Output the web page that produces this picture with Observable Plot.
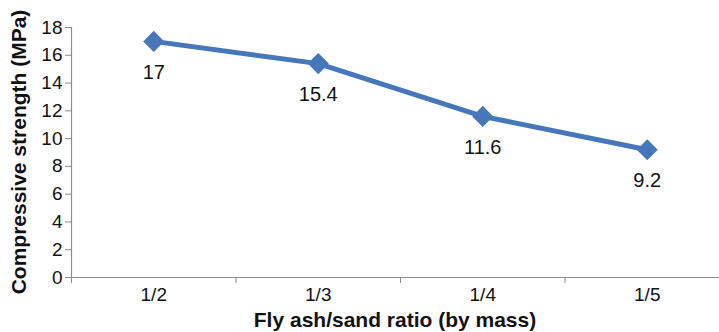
<!DOCTYPE html>
<html><head><meta charset="utf-8">
<script src="https://cdn.jsdelivr.net/npm/d3@7"></script>
<script src="https://cdn.jsdelivr.net/npm/@observablehq/plot@0.6"></script>
<style>body{margin:0;background:#fff;font-family:"Liberation Sans",Arial,sans-serif}</style>
</head><body><div id="c"></div>
<script>
const categories = ["1/2", "1/3", "1/4", "1/5"];
const strength = [17, 15.4, 11.6, 9.2];
const yTicks = [0, 2, 4, 6, 8, 10, 12, 14, 16, 18];

const data = categories.map((c, i) => ({i: i + 0.5, cat: c, v: strength[i]}));
const color = "#4677BA";

const chart = Plot.plot({
  width: 719, height: 332,
  marginLeft: 71, marginRight: 0, marginTop: 27, marginBottom: 55,
  style: {fontFamily: "'Liberation Sans', Arial, sans-serif", fontSize: "19px", background: "#fff", overflow: "visible"},
  x: {type: "linear", domain: [0, 4], range: [71, 729]},
  y: {domain: [0, 18], range: [277, 27]},
  marks: [
    Plot.ruleY([0], {stroke: "#8c8c8c", strokeWidth: 1.2}),
    Plot.ruleX([0], {stroke: "#8c8c8c", strokeWidth: 1.2}),
    Plot.axisY({ticks: yTicks, tickSize: 6, tickPadding: 3, stroke: "#8c8c8c", fill: "#111", label: null}),
    Plot.axisX({ticks: [0, 1, 2, 3, 4], tickSize: 6, tickFormat: () => "", stroke: "#8c8c8c", label: null}),
    Plot.axisX({ticks: data.map(d => d.i), tickSize: 0, tickPadding: 10, tickFormat: (d) => categories[Math.floor(d)], fill: "#111", label: null}),
    Plot.line(data, {x: "i", y: "v", stroke: color, strokeWidth: 5, strokeLinejoin: "round"}),
    Plot.dot(data, {x: "i", y: "v", symbol: "diamond2", r: 9.5, fill: color, stroke: "none"}),
    Plot.text(data, {x: "i", y: "v", text: d => String(d.v), dy: 31, fontSize: 20, fill: "#111"})
  ]
});
chart.style.position = "absolute"; chart.style.left = "0"; chart.style.top = "0";
const wrap = document.getElementById("c");
wrap.style.position = "relative"; wrap.style.width = "719px"; wrap.style.height = "332px"; wrap.style.overflow = "hidden";
wrap.appendChild(chart);

const xl = document.createElement("div");
xl.textContent = "Fly ash/sand ratio (by mass)";
xl.style.cssText = "position:absolute;left:71px;width:648px;top:308px;text-align:center;font-weight:bold;font-size:21px;line-height:24px;color:#111;";
wrap.appendChild(xl);
const yl = document.createElement("div");
yl.textContent = "Compressive strength (MPa)";
yl.style.cssText = "position:absolute;left:19px;top:152px;transform:translate(-50%,-50%) rotate(-90deg);white-space:nowrap;font-weight:bold;font-size:21px;color:#111;";
wrap.appendChild(yl);
</script></body></html>
